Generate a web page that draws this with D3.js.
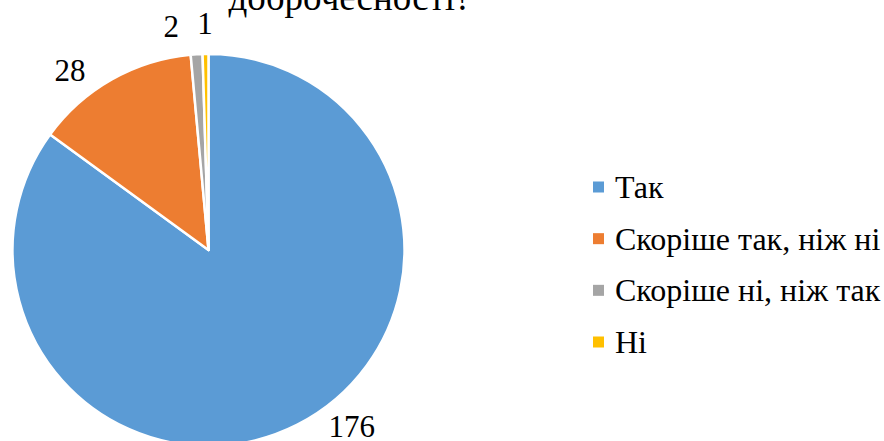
<!DOCTYPE html>
<html lang="uk">
<head>
<meta charset="utf-8">
<script src="https://cdn.jsdelivr.net/npm/d3@7/dist/d3.min.js"></script>
<style>
  body { margin: 0; background: #fff; }
</style>
</head>
<body>
<div id="target"></div>
<script>
let categories = ["Так", "Скоріше так, ніж ні", "Скоріше ні, ніж так", "Ні"]
let counts = [176, 28, 2, 1]
let colors = ["#5B9BD5", "#ED7D31", "#A5A5A5", "#FFC000"]
let titleTail = "доброчесності?"

let width = 884,
  height = 441,
  cx = 208.5,
  cy = 250,
  radius = 196,
  labelRadius = 227,
  font = "'Liberation Serif', 'Times New Roman', serif"

// small angle nudges (degrees) so Excel-like labels don't collide
let labelNudge = [0, -8, -6, 0]

let svg = d3.select("#target").append("svg")
  .attr("width", width)
  .attr("height", height)

// only the last line of the title is visible, cut by the top edge
svg.append("text")
  .attr("x", 350)
  .attr("y", 10)
  .attr("text-anchor", "middle")
  .style("font-family", font)
  .style("font-size", "37px")
  .text(titleTail)

let pie = d3.pie().sort(null).value(function (d) { return d; })
let arc = d3.arc().innerRadius(0).outerRadius(radius)
let arcs = pie(counts)

let g = svg.append("g")
  .attr("transform", "translate(" + cx + "," + cy + ")")

g.selectAll("path")
  .data(arcs)
  .enter().append("path")
  .attr("d", arc)
  .style("fill", function (d, i) { return colors[i]; })
  .style("stroke", "#fff")
  .style("stroke-width", 2.5)
  .style("stroke-linejoin", "round")

let maxY = 426 - cy
g.selectAll(".lbl")
  .data(arcs)
  .enter().append("text")
  .attr("class", "lbl")
  .attr("text-anchor", "middle")
  .attr("dy", "0.35em")
  .style("font-family", font)
  .style("font-size", "31px")
  .each(function (d, i) {
    let a = (d.startAngle + d.endAngle) / 2 + labelNudge[i] * Math.PI / 180
    let x = labelRadius * Math.sin(a), y = -labelRadius * Math.cos(a)
    // keep the bottom label inside the chart area by sliding along the label circle
    if (y > maxY) {
      y = maxY
      x = Math.sign(x) * Math.sqrt(labelRadius * labelRadius - y * y)
    }
    d3.select(this).attr("x", x).attr("y", y)
  })
  .text(function (d) { return d.data; })

let legend = svg.append("g").attr("transform", "translate(593,187)")
let row = d3.scalePoint().domain(categories).range([0, 155])

let item = legend.selectAll("g")
  .data(categories)
  .enter().append("g")
  .attr("transform", function (d) { return "translate(0," + row(d) + ")"; })

item.append("rect")
  .attr("x", 0)
  .attr("y", -5.5)
  .attr("width", 11)
  .attr("height", 11)
  .style("fill", function (d, i) { return colors[i]; })

item.append("text")
  .attr("x", 22)
  .attr("y", 11)
  .style("font-family", font)
  .style("font-size", "32px")
  .text(function (d) { return d; })
</script>
</body>
</html>
